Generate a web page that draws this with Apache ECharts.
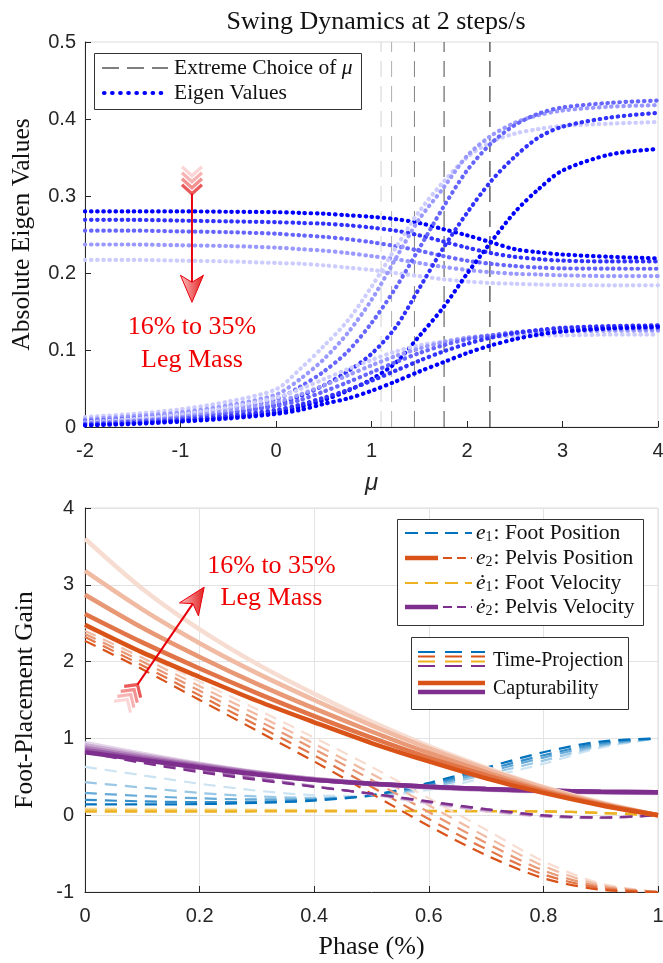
<!DOCTYPE html>
<html>
<head>
<meta charset="utf-8">
<script src="https://cdn.jsdelivr.net/npm/echarts@6/dist/echarts.min.js"></script>
<style>
html, body { margin: 0; padding: 0; background: #fff; }
#chart { width: 663px; height: 963px; }
</style>
</head>
<body>
<div id="chart"></div>
<script>
// ---------- Swing dynamics: eigenvalues vs. mu (five leg-mass ratios, light -> dark) ----------
const MU = [-2, -1.5, -1, -0.5, 0, 0.25, 0.5, 0.75, 1, 1.25, 1.5, 1.75, 2, 2.25, 2.5, 2.75, 3, 3.5, 4];

// branch that starts high and settles lower
const EIG_HIGH = [
  [0.217, 0.217, 0.216, 0.215, 0.213, 0.212, 0.210, 0.207, 0.204, 0.200, 0.196, 0.192, 0.189, 0.187, 0.186, 0.185, 0.1845, 0.184, 0.184],
  [0.237, 0.237, 0.236, 0.235, 0.233, 0.231, 0.229, 0.226, 0.222, 0.218, 0.213, 0.208, 0.204, 0.201, 0.199, 0.198, 0.197, 0.196, 0.196],
  [0.255, 0.255, 0.254, 0.253, 0.251, 0.249, 0.247, 0.244, 0.240, 0.235, 0.229, 0.222, 0.216, 0.212, 0.209, 0.207, 0.206, 0.2056, 0.2055],
  [0.269, 0.269, 0.268, 0.267, 0.266, 0.265, 0.264, 0.262, 0.259, 0.255, 0.249, 0.241, 0.233, 0.226, 0.221, 0.218, 0.216, 0.215, 0.215],
  [0.280, 0.280, 0.280, 0.2795, 0.279, 0.278, 0.277, 0.275, 0.273, 0.270, 0.265, 0.257, 0.249, 0.240, 0.231, 0.227, 0.224, 0.221, 0.219]
];
// branch that rises steeply to ~0.4
const EIG_RISE = [
  [0.013, 0.017, 0.023, 0.033, 0.049, 0.075, 0.105, 0.138, 0.182, 0.232, 0.280, 0.318, 0.350, 0.370, 0.381, 0.387, 0.391, 0.394, 0.396],
  [0.010, 0.014, 0.019, 0.028, 0.042, 0.062, 0.088, 0.122, 0.165, 0.218, 0.270, 0.310, 0.352, 0.378, 0.395, 0.405, 0.411, 0.416, 0.418],
  [0.008, 0.011, 0.016, 0.024, 0.036, 0.052, 0.072, 0.098, 0.135, 0.180, 0.232, 0.285, 0.333, 0.368, 0.392, 0.407, 0.415, 0.421, 0.424],
  [0.006, 0.009, 0.013, 0.019, 0.029, 0.040, 0.054, 0.072, 0.095, 0.129, 0.180, 0.232, 0.278, 0.319, 0.351, 0.376, 0.390, 0.402, 0.408],
  [0.004, 0.006, 0.009, 0.013, 0.019, 0.026, 0.035, 0.047, 0.062, 0.083, 0.118, 0.155, 0.199, 0.240, 0.279, 0.309, 0.333, 0.354, 0.361]
];
// branch that rises gently to ~0.13
const EIG_LOW = [
  [0.006, 0.010, 0.016, 0.025, 0.038, 0.049, 0.062, 0.075, 0.087, 0.098, 0.106, 0.111, 0.115, 0.117, 0.118, 0.119, 0.119, 0.120, 0.120],
  [0.005, 0.008, 0.013, 0.021, 0.032, 0.042, 0.054, 0.067, 0.080, 0.092, 0.102, 0.110, 0.116, 0.119, 0.121, 0.123, 0.124, 0.125, 0.125],
  [0.004, 0.007, 0.011, 0.017, 0.027, 0.035, 0.046, 0.058, 0.071, 0.084, 0.096, 0.106, 0.114, 0.119, 0.123, 0.125, 0.127, 0.128, 0.128],
  [0.003, 0.005, 0.009, 0.014, 0.022, 0.029, 0.038, 0.048, 0.060, 0.073, 0.086, 0.098, 0.108, 0.116, 0.122, 0.126, 0.129, 0.131, 0.132],
  [0.002, 0.004, 0.007, 0.011, 0.017, 0.022, 0.030, 0.037, 0.047, 0.059, 0.072, 0.084, 0.096, 0.106, 0.114, 0.120, 0.124, 0.128, 0.130]
];
// extreme choice of mu for each leg mass
const MU_EXTREME = [1.10, 1.21, 1.45, 1.76, 2.24];
const EIG_MIN = 0, EIG_MAX = 0.5;

// ---------- Foot-placement gains vs. phase ----------
const PHASE = [0, 0.1, 0.2, 0.3, 0.4, 0.5, 0.6, 0.7, 0.8, 0.9, 1];

// capturability (solid)
const CAP_PELVIS_POS = [
  [3.60, 2.95, 2.42, 1.97, 1.58, 1.22, 0.90, 0.62, 0.37, 0.17, 0.0],
  [3.18, 2.68, 2.24, 1.85, 1.50, 1.17, 0.87, 0.60, 0.36, 0.16, 0.0],
  [2.87, 2.44, 2.06, 1.71, 1.39, 1.09, 0.81, 0.56, 0.33, 0.15, 0.0],
  [2.62, 2.25, 1.91, 1.59, 1.29, 1.01, 0.75, 0.52, 0.31, 0.14, 0.0],
  [2.48, 2.12, 1.80, 1.49, 1.21, 0.94, 0.70, 0.48, 0.29, 0.13, 0.0]
];
const CAP_PELVIS_VEL = [
  [0.94, 0.80, 0.67, 0.56, 0.47, 0.41, 0.36, 0.33, 0.31, 0.295, 0.29],
  [0.91, 0.78, 0.66, 0.555, 0.47, 0.41, 0.365, 0.335, 0.315, 0.30, 0.295],
  [0.88, 0.76, 0.65, 0.55, 0.465, 0.41, 0.37, 0.34, 0.32, 0.305, 0.30],
  [0.85, 0.74, 0.635, 0.54, 0.46, 0.41, 0.37, 0.34, 0.32, 0.305, 0.30],
  [0.82, 0.72, 0.62, 0.53, 0.46, 0.41, 0.37, 0.34, 0.32, 0.305, 0.30]
];
// time-projection (dashed)
const TP_FOOT_POS = [
  [0.63, 0.52, 0.41, 0.32, 0.26, 0.25, 0.33, 0.49, 0.67, 0.88, 1.0],
  [0.43, 0.36, 0.29, 0.245, 0.225, 0.25, 0.36, 0.53, 0.71, 0.90, 1.0],
  [0.29, 0.25, 0.22, 0.205, 0.21, 0.255, 0.38, 0.56, 0.75, 0.92, 1.0],
  [0.20, 0.18, 0.17, 0.175, 0.20, 0.26, 0.40, 0.59, 0.78, 0.94, 1.0],
  [0.14, 0.14, 0.145, 0.16, 0.19, 0.26, 0.42, 0.62, 0.82, 0.96, 1.0]
];
const TP_PELVIS_POS = [
  [2.45, 2.10, 1.74, 1.38, 1.01, 0.63, 0.22, -0.19, -0.60, -0.89, -1.0],
  [2.40, 2.05, 1.68, 1.31, 0.93, 0.54, 0.13, -0.28, -0.66, -0.91, -1.0],
  [2.36, 2.00, 1.62, 1.24, 0.86, 0.46, 0.04, -0.36, -0.72, -0.93, -1.0],
  [2.32, 1.95, 1.56, 1.17, 0.78, 0.37, -0.05, -0.44, -0.77, -0.95, -1.0],
  [2.27, 1.90, 1.50, 1.10, 0.70, 0.28, -0.14, -0.52, -0.82, -0.97, -1.0]
];
const TP_FOOT_VEL = [
  [0.09, 0.085, 0.08, 0.075, 0.07, 0.065, 0.06, 0.055, 0.05, 0.03, 0.0],
  [0.08, 0.076, 0.072, 0.068, 0.064, 0.06, 0.057, 0.054, 0.05, 0.03, 0.0],
  [0.07, 0.067, 0.064, 0.062, 0.06, 0.058, 0.056, 0.053, 0.05, 0.03, 0.0],
  [0.06, 0.058, 0.057, 0.056, 0.055, 0.055, 0.054, 0.052, 0.05, 0.03, 0.0],
  [0.045, 0.046, 0.047, 0.048, 0.05, 0.051, 0.052, 0.052, 0.05, 0.03, 0.0]
];
const TP_PELVIS_VEL = [
  [0.92, 0.75, 0.61, 0.49, 0.38, 0.27, 0.15, 0.05, -0.02, -0.04, 0.0],
  [0.90, 0.73, 0.60, 0.485, 0.38, 0.275, 0.16, 0.06, -0.015, -0.035, 0.0],
  [0.87, 0.715, 0.59, 0.48, 0.375, 0.28, 0.17, 0.07, -0.01, -0.035, 0.0],
  [0.84, 0.70, 0.575, 0.47, 0.372, 0.28, 0.175, 0.075, -0.005, -0.03, 0.0],
  [0.82, 0.68, 0.56, 0.46, 0.37, 0.28, 0.18, 0.08, 0.0, -0.03, 0.0]
];
const PHASE_TICKS = ['0', '0.2', '0.4', '0.6', '0.8', '1'];

// ---------- colours ----------
const SHADE = [0.2, 0.4, 0.6, 0.8, 1.0];
function tint(hex, w) {
  const n = parseInt(hex.slice(1), 16);
  const c = [(n >> 16) & 255, (n >> 8) & 255, n & 255].map(v => Math.round(v * w + 255 * (1 - w)));
  return 'rgb(' + c.join(',') + ')';
}
const BLUE_EIG = '#0000ff';
const C_FOOT_POS = '#0072BD', C_PELVIS_POS = '#D95319', C_FOOT_VEL = '#EDB120', C_PELVIS_VEL = '#7E2F8E';
const MU_LINE_COLORS = ['#d6d6d6', '#b5b5b5', '#8a8a8a', '#585858', '#262626'];
const AXIS_COLOR = '#262626';
const SERIF = '"Liberation Serif", "DejaVu Serif", serif';
const SANS = '"Liberation Sans", Arial, sans-serif';
const RED = '#f00000';

const chart = echarts.init(document.getElementById('chart'), null, { renderer: 'canvas' });

const DOT = { type: [0.5, 5.6], width: 4.2, cap: 'round' };
const series = [];

// extreme mu markers
MU_EXTREME.forEach((m, i) => {
  series.push({
    type: 'line', xAxisIndex: 0, yAxisIndex: 0, symbol: 'none', silent: true,
    data: [[m, EIG_MIN], [m, EIG_MAX]],
    lineStyle: { color: MU_LINE_COLORS[i], width: 1.1, type: [16, 9] }, z: 2
  });
});
// eigenvalue branches
[EIG_HIGH, EIG_RISE, EIG_LOW].forEach(branch => {
  branch.forEach((vals, i) => {
    series.push({
      type: 'line', xAxisIndex: 0, yAxisIndex: 0, symbol: 'none', silent: true,
      smooth: 0.3,
      data: MU.map((m, k) => [m, vals[k]]),
      lineStyle: Object.assign({ color: tint(BLUE_EIG, SHADE[i]) }, DOT), z: 3
    });
  });
});

function gainSeries(sets, base, width, dashed, z) {
  sets.forEach((vals, i) => {
    series.push({
      type: 'line', xAxisIndex: 1, yAxisIndex: 1, symbol: 'none', silent: true,
      smooth: 0.3,
      data: PHASE.map((p, k) => [p, vals[k]]),
      lineStyle: { color: tint(base, SHADE[i]), width: width, type: dashed ? [12, 8] : 'solid', cap: 'butt' },
      z: z
    });
  });
}
gainSeries(TP_FOOT_VEL, C_FOOT_VEL, 2.2, true, 3);
gainSeries(TP_FOOT_POS, C_FOOT_POS, 2.2, true, 3);
gainSeries(TP_PELVIS_POS, C_PELVIS_POS, 2.2, true, 3);
gainSeries(TP_PELVIS_VEL, C_PELVIS_VEL, 2.2, true, 3);
gainSeries(CAP_PELVIS_VEL, C_PELVIS_VEL, 4.5, false, 4);
gainSeries(CAP_PELVIS_POS, C_PELVIS_POS, 4.5, false, 4);

const axisCommon = {
  type: 'value',
  axisLine: { show: true, onZero: false, lineStyle: { color: AXIS_COLOR, width: 1 } },
  axisTick: { show: true, inside: true, length: 6, lineStyle: { color: AXIS_COLOR, width: 1 } },
  axisLabel: { color: AXIS_COLOR, fontSize: 20, fontFamily: SANS },
  nameLocation: 'middle'
};

chart.setOption({
  animation: false,
  backgroundColor: '#fff',
  title: {
    text: 'Swing Dynamics at 2 steps/s', left: 371, top: 4, textAlign: 'center',
    textStyle: { fontFamily: SERIF, fontWeight: 'normal', fontSize: 26, color: '#111' }
  },
  grid: [
    { left: 85, top: 42, width: 573, height: 385, show: true, borderColor: '#dcdcdc', borderWidth: 1, backgroundColor: '#fff', outerBoundsMode: 'none' },
    { left: 85, top: 508, width: 573, height: 384, show: true, borderColor: '#dcdcdc', borderWidth: 1, backgroundColor: '#fff', outerBoundsMode: 'none' }
  ],
  xAxis: [
    Object.assign({}, axisCommon, {
      gridIndex: 0, min: -2, max: 4, interval: 1,
      axisLabel: Object.assign({}, axisCommon.axisLabel, { margin: 14 }),
      splitLine: { show: false },
      name: 'μ', nameGap: 44,
      nameTextStyle: { fontFamily: SANS, fontStyle: 'italic', fontSize: 24, color: AXIS_COLOR }
    }),
    Object.assign({}, axisCommon, {
      gridIndex: 1, min: 0, max: 1, interval: 0.2,
      axisLabel: Object.assign({}, axisCommon.axisLabel, { margin: 14, formatter: (v) => PHASE_TICKS[Math.round(v * 5)] }),
      splitLine: { show: true, lineStyle: { color: '#e3e3e3', width: 1 } },
      name: 'Phase (%)', nameGap: 42,
      nameTextStyle: { fontFamily: SERIF, fontSize: 26, color: '#111' }
    })
  ],
  yAxis: [
    Object.assign({}, axisCommon, {
      gridIndex: 0, min: EIG_MIN, max: EIG_MAX, interval: 0.1,
      axisLabel: Object.assign({}, axisCommon.axisLabel, { margin: 9 }),
      splitLine: { show: false },
      name: 'Absolute Eigen Values', nameGap: 50,
      nameTextStyle: { fontFamily: SERIF, fontSize: 25.5, color: '#111' }
    }),
    Object.assign({}, axisCommon, {
      gridIndex: 1, min: -1, max: 4, interval: 1,
      axisLabel: Object.assign({}, axisCommon.axisLabel, { margin: 11 }),
      splitLine: { show: true, lineStyle: { color: '#e3e3e3', width: 1 } },
      name: 'Foot-Placement Gain', nameGap: 47,
      nameTextStyle: { fontFamily: SERIF, fontSize: 25.5, color: '#111' }
    })
  ],
  series: series
});

// ---------- annotations: leg-mass arrows, notes, legends ----------
const NOTE_TOP = { tail: [-0.88, 0.338], tip: [-0.88, 0.162], text: [-0.88, 0.130], text2: [-0.88, 0.087] };
const NOTE_BOTTOM = { tail: [0.065, 1.41], tip: [0.208, 2.97], text: [0.3255, 3.24], text2: [0.3255, 2.83] };

function px(grid, p) { return chart.convertToPixel({ gridIndex: grid }, p); }

function arrow(T, P) {
  const dx = P[0] - T[0], dy = P[1] - T[1];
  const len = Math.hypot(dx, dy);
  const d = [dx / len, dy / len], n = [-d[1], d[0]];
  const at = (b, s, t) => [b[0] + d[0] * s + n[0] * t, b[1] + d[1] * s + n[1] * t];
  const out = [];
  const feather = ['#fcd6d6', '#f8b4b4', '#f39090', '#ea5a5a'];
  for (let k = 0; k < 4; k++) {
    const apex = at(T, 9 + k * 6, 0);
    out.push({
      type: 'polyline', z: 50,
      shape: { points: [at(apex, -9, 10), apex, at(apex, -9, -10)] },
      style: { stroke: feather[k], lineWidth: 3.2, fill: null, lineJoin: 'miter' }
    });
  }
  const L = 27, W = 11.5, notch = 7;
  const shaftStart = at(T, 27, 0), shaftEnd = at(P, -(L - notch), 0);
  out.push({ type: 'line', z: 51, shape: { x1: shaftStart[0], y1: shaftStart[1], x2: shaftEnd[0], y2: shaftEnd[1] },
    style: { stroke: '#e8000b', lineWidth: 2 } });
  out.push({
    type: 'polygon', z: 52,
    shape: { points: [P, at(P, -L, W), at(P, -(L - notch), 0), at(P, -L, -W)] },
    style: {
      fill: { type: 'linear', x: 0, y: 0, x2: 1, y2: 0, colorStops: [{ offset: 0, color: '#fbc4c4' }, { offset: 0.5, color: '#f07070' }, { offset: 1, color: '#e02020' }] },
      stroke: '#e8000b', lineWidth: 1
    }
  });
  return out;
}

function note(p, text) {
  return { type: 'text', x: p[0], y: p[1], z: 55,
    style: { text: text, fontFamily: SERIF, fontSize: 26, fill: RED, align: 'center', verticalAlign: 'middle' } };
}

function legendText(x, y, rich, text, size) {
  return { type: 'text', x: x, y: y, z: 61,
    style: { text: text, fontFamily: SERIF, fontSize: size, fill: '#111', align: 'left', verticalAlign: 'middle', rich: rich } };
}
function seg(x1, x2, y, color, width, dash, cap) {
  return { type: 'line', z: 61, shape: { x1: x1, y1: y, x2: x2, y2: y },
    style: { stroke: color, lineWidth: width, lineDash: dash || null, lineCap: cap || 'butt' } };
}

function richFor(size) {
  return {
    e: { fontFamily: SERIF, fontStyle: 'italic', fontSize: size, fill: '#111' },
    s: { fontFamily: SERIF, fontSize: Math.round(size * 0.66), fill: '#111', verticalAlign: 'bottom', padding: [0, 1, 0, 0] },
    t: { fontFamily: SERIF, fontSize: size, fill: '#111' },
    m: { fontFamily: SERIF, fontStyle: 'italic', fontSize: size, fill: '#111' }
  };
}
const RICH_A = richFor(21.5);
const RICH_B = richFor(20);

function drawAnnotations() {
  const g = [];
  // top arrow & note
  g.push(...arrow(px(0, NOTE_TOP.tail), px(0, NOTE_TOP.tip)));
  g.push(note(px(0, NOTE_TOP.text), '16% to 35%'));
  g.push(note(px(0, NOTE_TOP.text2), 'Leg Mass'));
  // bottom arrow & note
  g.push(...arrow(px(1, NOTE_BOTTOM.tail), px(1, NOTE_BOTTOM.tip)));
  g.push(note(px(1, NOTE_BOTTOM.text), '16% to 35%'));
  g.push(note(px(1, NOTE_BOTTOM.text2), 'Leg Mass'));

  // top legend
  g.push({ type: 'rect', z: 60, shape: { x: 94.5, y: 53.5, width: 267, height: 56 }, style: { fill: '#fff', stroke: '#333', lineWidth: 1 } });
  g.push(seg(102, 168, 68, '#555', 1.3, [17, 8]));
  g.push(legendText(174, 68, RICH_A, '{t|Extreme Choice of }{m|μ}', 21.5));
  g.push(seg(104, 162, 93, BLUE_EIG, 4.2, [0.5, 7.6], 'round'));
  g.push(legendText(174, 93, RICH_A, '{t|Eigen Values}', 21.5));

  // bottom legend: state components
  g.push({ type: 'rect', z: 60, shape: { x: 397.5, y: 519.5, width: 246, height: 106 }, style: { fill: '#fff', stroke: '#333', lineWidth: 1 } });
  const rows = [
    { y: 533, c: C_FOOT_POS, thick: false, label: '{e|e}{s|1}{t|: Foot Position}' },
    { y: 558, c: C_PELVIS_POS, thick: true, label: '{e|e}{s|2}{t|: Pelvis Position}' },
    { y: 583, c: C_FOOT_VEL, thick: false, label: '{e|ė}{s|1}{t|: Foot Velocity}' },
    { y: 607, c: C_PELVIS_VEL, thick: true, label: '{e|ė}{s|2}{t|: Pelvis Velocity}' }
  ];
  rows.forEach(r => {
    if (r.thick) {
      g.push(seg(405, 438, r.y, r.c, 4.5));
      g.push(seg(443, 472, r.y, r.c, 2, [9, 5]));
    } else {
      g.push(seg(405, 472, r.y, r.c, 2, [13, 7]));
    }
    g.push(legendText(476, r.y, RICH_A, r.label, 21.5));
  });

  // bottom legend: method
  g.push({ type: 'rect', z: 60, shape: { x: 411.5, y: 637.5, width: 217, height: 72 }, style: { fill: '#fff', stroke: '#333', lineWidth: 1 } });
  const stackY = [652, 656.5, 661.5, 666];
  const stackC = [C_FOOT_POS, C_PELVIS_POS, C_FOOT_VEL, C_PELVIS_VEL];
  [[418, 435], [445, 462], [471, 485]].forEach(xr => {
    stackY.forEach((y, k) => g.push(seg(xr[0], xr[1], y, stackC[k], 2)));
  });
  g.push(legendText(493, 661, RICH_B, '{t|Time-Projection}', 20));
  g.push(seg(418, 485, 683, C_PELVIS_POS, 4.5));
  g.push(seg(418, 485, 692, C_PELVIS_VEL, 4.5));
  g.push(legendText(493, 689, RICH_B, '{t|Capturability}', 20));

  chart.setOption({ graphic: g });
}
drawAnnotations();
</script>
</body>
</html>
